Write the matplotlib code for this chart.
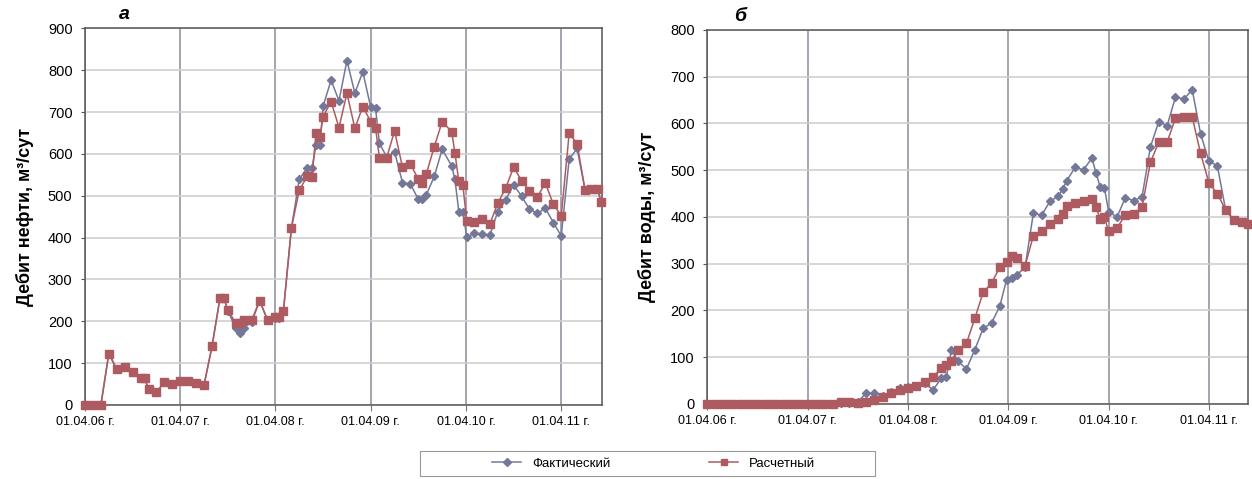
import matplotlib
matplotlib.use("Agg")
import matplotlib.pyplot as plt
from matplotlib import font_manager
from matplotlib.patches import Rectangle

# Fonts: condensed look if available
names = {f.name for f in font_manager.fontManager.ttflist}
narrow = "Liberation Sans Narrow" if "Liberation Sans Narrow" in names else "Liberation Sans"
plt.rcParams['font.family'] = [narrow, 'DejaVu Sans']

# Data: x in months since 01.04.06
tick_months = [0, 12, 24, 36, 48, 60]
tick_labels = ['01.04.06 г.', '01.04.07 г.', '01.04.08 г.', '01.04.09 г.', '01.04.10 г.', '01.04.11 г.']

months_oil = [0, 1, 2, 3, 4, 5, 6, 7, 7.5, 8, 9, 10, 11, 12, 13, 14, 15, 16, 17, 17.5,
              18, 19, 19.5, 20, 21, 22, 23, 24, 24.5, 25, 26, 27, 28, 28.6, 29.1, 29.6,
              30, 31, 32, 33, 34, 35, 36, 36.6, 37.1, 38, 39, 40, 41, 42, 42.5, 43, 44,
              45, 46.2, 46.6, 47.1, 47.6, 48.1, 49, 50, 51, 52, 53, 54, 55, 56, 57, 58,
              59, 60, 61, 62, 63, 63.8, 64.6, 65]
oil_fact = [0, 0, 0, 123, 85, 91, 80, 65, 65, 38, 30, 55, 50, 57, 57, 52, 48, 140, 255, 255,
            225, 183, 172, 185, 198, 249, 203, 208, 208, 225, 422, 540, 566, 566, 621, 621,
            714, 776, 727, 823, 745, 796, 711, 709, 625, 593, 605, 531, 528, 491, 491, 502, 546,
            611, 571, 540, 462, 462, 401, 410, 409, 405, 462, 490, 526, 499, 468, 458, 470,
            436, 404, 587, 613, 514, 515, 515, 486]
oil_calc = [0, 0, 0, 123, 85, 91, 80, 65, 65, 38, 30, 55, 50, 57, 57, 52, 48, 140, 255, 255,
            227, 195, 196, 203, 203, 249, 203, 210, 210, 225, 422, 514, 546, 544, 649, 641,
            689, 725, 663, 745, 661, 713, 677, 663, 589, 590, 655, 568, 576, 539, 531, 552, 617,
            677, 653, 603, 534, 526, 440, 438, 444, 432, 482, 518, 568, 536, 512, 498, 530,
            480, 452, 649, 624, 514, 515, 515, 486]

months_water = [0, 1, 2, 3, 4, 5, 6, 7, 8, 9, 10, 11, 12, 13, 14, 15, 16, 17, 18, 19, 20,
                21, 22, 23, 24, 25, 26, 27, 28, 28.6, 29.2, 30, 31, 32, 33, 34, 35, 35.8,
                36.5, 37, 38, 39, 40, 41, 42, 42.5, 43, 44, 45, 46, 46.5, 47, 47.5, 48, 49,
                50, 51, 52, 53, 54, 55, 56, 57, 58, 59, 60, 61, 62, 63, 64, 64.7]
water_fact = [0, 0, 0, 0, 0, 0, 0, 0, 0, 0, 0, 0, 0, 0, 0, 0, 2, 3, 5, 23, 23,
              17, 25, 35, 36, 38, 45, 30, 55, 58, 116, 91, 75, 116, 162, 173, 210, 266,
              270, 276, 292, 408, 404, 434, 444, 460, 478, 506, 501, 526, 494, 464, 463, 411, 400,
              441, 435, 443, 550, 604, 595, 657, 652, 672, 578, 519, 510, 415, 393, 390, 386]
water_calc = [0, 0, 0, 0, 0, 0, 0, 0, 0, 0, 0, 0, 0, 0, 0, 0, 5, 5, 3, 4, 8,
              14, 23, 30, 35, 38, 48, 58, 76, 84, 93, 115, 130, 183, 239, 258, 294, 303,
              317, 313, 295, 360, 369, 385, 395, 407, 424, 430, 435, 438, 421, 395, 400, 369, 376,
              405, 407, 421, 517, 560, 560, 612, 614, 614, 536, 473, 450, 415, 393, 390, 386]

blue = '#737899'
red = '#ad5b60'

fig = plt.figure(figsize=(12.52, 4.79), dpi=100)
ax1 = fig.add_axes([0.0679, 0.1545, 0.4127, 0.7864])
ax2 = fig.add_axes([0.5649, 0.1566, 0.4321, 0.7808])


def style(ax, ymax, xmax):
    ax.set_xlim(0, xmax)
    ax.set_ylim(0, ymax)
    ax.set_yticks(range(0, ymax + 1, 100))
    ax.set_xticks(tick_months)
    ax.set_xticklabels(tick_labels, fontsize=9)
    ax.tick_params(axis='y', labelsize=10.5, length=3, color='#555555', pad=6)
    ax.tick_params(axis='x', length=4, color='#777777', pad=4)
    ax.yaxis.grid(True, color='#cfcfcf', linewidth=1.2)
    ax.xaxis.grid(True, color='#8c8c98', linewidth=1.1)
    ax.set_axisbelow(True)
    for s in ax.spines.values():
        s.set_color('#555555')
        s.set_linewidth(1.1)


ax1.plot(months_oil, oil_fact, color=blue, marker='D', markersize=4.5, linewidth=1.1,
         label='Фактический', clip_on=False, zorder=3)
ax1.plot(months_oil, oil_calc, color=red, marker='s', markersize=5.8, linewidth=1.1,
         label='Расчетный', clip_on=False, zorder=4)
style(ax1, 900, 65.1)
ax1.set_ylabel('Дебит нефти, м³/сут', fontsize=13, fontweight='bold', labelpad=10)
ax1.text(0.065, 1.025, 'а', transform=ax1.transAxes, fontsize=14,
         fontweight='bold', style='italic', family=['Liberation Sans', 'DejaVu Sans'])

ax2.plot(months_water, water_fact, color=blue, marker='D', markersize=4.5, linewidth=1.1,
         clip_on=False, zorder=3)
ax2.plot(months_water, water_calc, color=red, marker='s', markersize=5.8, linewidth=1.1,
         clip_on=False, zorder=4)
style(ax2, 800, 64.7)
ax2.set_ylabel('Дебит воды, м³/сут', fontsize=13, fontweight='bold', labelpad=10)
ax2.text(0.05, 1.025, 'б', transform=ax2.transAxes, fontsize=14,
         fontweight='bold', style='italic', family=['Liberation Sans', 'DejaVu Sans'])

# legend frame drawn separately so the box can be wider than its entries
fig.patches.append(Rectangle((420 / 1252, 3 / 479), 455 / 1252, 25 / 479,
                             transform=fig.transFigure, facecolor='white',
                             edgecolor='#999999', linewidth=0.8))
h, l = ax1.get_legend_handles_labels()
leg = fig.legend(h, l, loc='center', bbox_to_anchor=(0.522, 15.5 / 479), ncol=2,
                 fontsize=9.5, frameon=False, columnspacing=7.5,
                 handlelength=2.2, borderpad=0.2)
for line in leg.get_lines():
    line.set_markersize(4)

fig.savefig('out.png', dpi=100)
